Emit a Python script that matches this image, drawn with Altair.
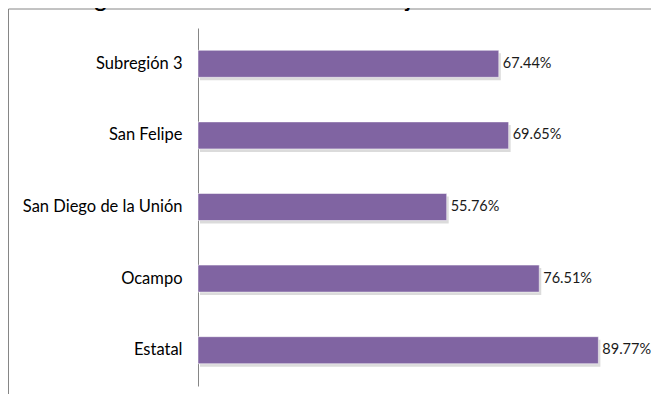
import altair as alt
import pandas as pd

categories = ["Subregión 3", "San Felipe", "San Diego de la Unión", "Ocampo", "Estatal"]
values = [67.44, 69.65, 55.76, 76.51, 89.77]
labels = ["67.44%", "69.65%", "55.76%", "76.51%", "89.77%"]
title_text = "Figura III.6: Cobertura drenaje en viviendas"

df = pd.DataFrame({"cat": categories, "val": values, "lab": labels})

W, H = 446, 358

y_enc = alt.Y("cat:N", sort=categories, title=None,
              scale=alt.Scale(paddingInner=0.62, paddingOuter=0.31),
              axis=alt.Axis(ticks=False, domainColor="#868686", domainWidth=1,
                            labelFont="Lato", labelFontSize=16.5, labelColor="#000000",
                            labelPadding=16, grid=False))
x_enc = alt.X("val:Q", scale=alt.Scale(domain=[0, 100]), axis=None)

base = alt.Chart(df)

shadow = base.mark_bar(color="#b0b0b0", opacity=0.45, size=27, xOffset=2, yOffset=3).encode(
    x=x_enc, y=y_enc)
bars = base.mark_bar(color="#8064A2", size=27, stroke="#ffffff", strokeWidth=0.5).encode(
    x=x_enc, y=y_enc)
text = base.mark_text(align="left", baseline="middle", dx=4, font="Lato", fontSize=14.5,
                      color="#1a1a1a").encode(x=x_enc, y=y_enc, text="lab:N")

border = alt.Chart(pd.DataFrame({"a": [0]})).mark_rect(
    filled=False, stroke="#868686", strokeWidth=1).encode(
    x=alt.value(-189.5), x2=alt.value(480), y=alt.value(-19), y2=alt.value(400))

title = alt.Chart(pd.DataFrame({"t": [title_text]})).mark_text(
    font="Liberation Sans", fontSize=26.5, align="center", baseline="alphabetic",
    color="#000000").encode(x=alt.value(128), y=alt.value(-22), text="t:N")

chart = alt.layer(border, title, shadow, bars, text).properties(
    width=W, height=H,
    autosize=alt.AutoSizeParams(type="none"),
    padding={"left": 190, "top": 20, "right": 7, "bottom": 8},
).configure_view(strokeWidth=0, stroke="transparent")

chart.save("out.html", embed_options={"renderer": "svg", "actions": False})
